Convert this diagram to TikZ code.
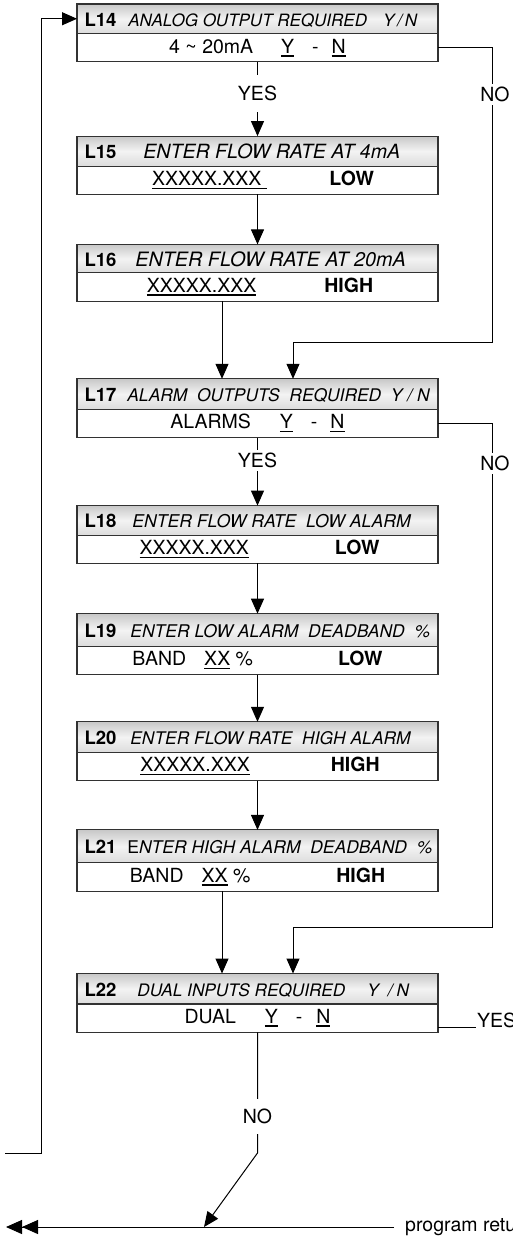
\documentclass[tikz,border=0pt]{standalone}
\usepackage{fontspec}
\setmainfont{TeX Gyre Heros}
\usetikzlibrary{arrows.meta, positioning}
\definecolor{FrameLine}{RGB}{50, 50, 50}
\definecolor{HeadTop}{RGB}{200, 200, 200}
\definecolor{HeadMid}{RGB}{243, 243, 243}
\definecolor{HeadBot}{RGB}{220, 220, 220}
\newsavebox{\ubox}
\newcommand{\uscore}[1]{\sbox{\ubox}{#1}\rlap{\rule[-3.5pt]{\wd\ubox}{1.7pt}}\usebox{\ubox}}
\newcommand{\lnum}[1]{{\fontsize{18.5}{20}\selectfont\bfseries #1}}
\newcommand{\itfs}[1]{\fontsize{#1}{22}\selectfont\itshape}
\newcommand{\headtxt}[1]{\makebox[346pt][l]{#1}}

\begin{document}
\begin{tikzpicture}[x=1pt, y=-1pt,
        % Ligne d'en-tete (numero + question)
        headbox/.style={draw=FrameLine, line width=1.1pt, outer sep=0pt, top color=HeadTop, bottom color=HeadBot, middle color=HeadMid, minimum width=361pt, minimum height=30pt, inner xsep=7.5pt, inner ysep=0pt, text height=15pt, text depth=0pt},
        % Ligne de saisie
        bodybox/.style={draw=FrameLine, line width=1.1pt, outer sep=0pt, fill=white, minimum width=361pt, minimum height=28.3pt, inner sep=0pt, text height=14pt, text depth=3pt, font=\fontsize{19.5}{22}\selectfont},
        % Etiquettes YES / NO
        lbl/.style={fill=white, inner xsep=1pt, inner ysep=3pt, font=\fontsize{19.5}{22}\selectfont},
        % Fleches
        arrow/.style={-{Triangle[length=15pt, width=13pt]}, line width=1pt},
        line/.style={line width=1pt},
        dblarrow/.style={-{Triangle[length=16pt, width=14pt, sep=0pt] Triangle[length=16pt, width=14pt, sep=0pt]}, line width=1pt}
    ]
    \useasboundingbox (0,0) rectangle (512,1237);

    % --- L14 ---
    \node[headbox, minimum height=29.5pt] (h14) at (257.5,18.75) {\headtxt{\lnum{L14}\hspace{12pt}\itfs{17}ANALOG OUTPUT REQUIRED\hspace{16pt}Y\,/\,N}};
    \node[bodybox, below=0pt of h14] (b14) {4 \textasciitilde{} 20mA\hspace{28pt}\uscore{Y}\hspace{18pt}-\hspace{13pt}\uscore{N}\hspace{6pt}};

    % --- L15 ---
    \node[headbox, below=74.3pt of b14] (h15) {\headtxt{\lnum{L15}\hspace{27pt}\itfs{19.6}ENTER FLOW RATE AT 4mA}};
    \node[bodybox, below=0pt of h15] (b15) {\hspace{11pt}\uscore{XXXXX.XXX\hspace{6pt}}\hspace{62pt}\textbf{LOW}};

    % --- L16 ---
    \node[headbox, minimum height=28.5pt, below=50pt of b15] (h16) {\headtxt{\lnum{L16}\hspace{19pt}\itfs{19.8}ENTER FLOW RATE AT 20mA}};
    \node[bodybox, below=0pt of h16] (b16) {\hspace{5pt}\uscore{XXXXX.XXX}\hspace{68pt}\textbf{HIGH}};

    % --- L17 ---
    \node[headbox, minimum height=30.5pt, below=77.6pt of b16] (h17) {\headtxt{\lnum{L17}\hspace{11pt}\itfs{17.4}ALARM\ \ OUTPUTS\ \ REQUIRED\ \ Y / N}};
    \node[bodybox, below=0pt of h17] (b17) {ALARMS\hspace{29pt}\uscore{Y}\hspace{18pt}-\hspace{13pt}\uscore{N}};

    % --- L18 ---
    \node[headbox, minimum height=29.5pt, below=68pt of b17] (h18) {\headtxt{\lnum{L18}\hspace{16pt}\itfs{17.6}ENTER FLOW RATE\ \ LOW ALARM}};
    \node[bodybox, below=0pt of h18] (b18) {\hspace{4pt}\uscore{XXXXX.XXX}\hspace{86pt}\textbf{LOW}};

    % --- L19 ---
    \node[headbox, minimum height=32.5pt, below=50.3pt of b18] (h19) {\headtxt{\lnum{L19}\hspace{14pt}\itfs{17.5}ENTER LOW ALARM\ \ DEADBAND\ \ \%}};
    \node[bodybox, below=0pt of h19] (b19) {BAND\hspace{18pt}\uscore{XX} \%\hspace{85pt}\textbf{LOW}};

    % --- L20 ---
    \node[headbox, minimum height=30.5pt, below=47.3pt of b19] (h20) {\headtxt{\lnum{L20}\hspace{14pt}\itfs{17.4}ENTER FLOW RATE\ \ HIGH ALARM}};
    \node[bodybox, below=0pt of h20] (b20) {\hspace{5pt}\uscore{XXXXX.XXX}\hspace{81pt}\textbf{HIGH}};

    % --- L21 ---
    \node[headbox, minimum height=33pt, below=49.3pt of b20] (h21) {\headtxt{\lnum{L21}\hspace{11pt}\itfs{17.5}{\upshape E}NTER HIGH ALARM\ \ DEADBAND\ \ \%}};
    \node[bodybox, below=0pt of h21] (b21) {BAND\hspace{18pt}\uscore{XX} \%\hspace{86pt}\textbf{HIGH}};

    % --- L22 ---
    \node[headbox, minimum height=30.5pt, below=82.3pt of b21] (h22) {\headtxt{\lnum{L22}\hspace{21pt}\itfs{17.2}DUAL INPUTS REQUIRED\hspace{22pt}Y\hspace{9pt}/\hspace{4pt}N}};
    \node[bodybox, below=0pt of h22] (b22) {DUAL\hspace{29pt}\uscore{Y}\hspace{18pt}-\hspace{14pt}\uscore{N}};

    % --- POINTS DE PASSAGE ---
    \coordinate (nobend14) at (492,342);
    \coordinate (nobend17) at (492,927);
    \coordinate (nobend22) at (257.5,1153);
    \coordinate (join) at (204,1227);
    \coordinate (retend) at (6,1227);
    \coordinate (loopin) at (5,1153);
    \coordinate (loopbend) at (41,1153);

    % --- FLECHES ---
    \draw[arrow] (b14.south) -- node[lbl, inner ysep=11pt, pos=0.43] (yes14) {YES} (h15.north);
    \draw[arrow] (b14.east) -| node[lbl, pos=0.58, xshift=3pt] (no14) {NO} (nobend14) -| ([xshift=35.5pt]h17.north);
    \draw[arrow] (b15.south) -- (h16.north);
    \draw[arrow] ([xshift=-35.5pt]b16.south) -- ([xshift=-35.5pt]h17.north);
    \draw[arrow] (b17.south) -- node[lbl, pos=0.34] (yes17) {YES} (h18.north);
    \draw[arrow] (b17.east) -| node[lbl, pos=0.54, xshift=3pt] (no17) {NO} (nobend17) -| ([xshift=35.5pt]h22.north);
    \draw[arrow] (b18.south) -- (h19.north);
    \draw[arrow] (b19.south) -- (h20.north);
    \draw[arrow] (b20.south) -- (h21.north);
    \draw[arrow] ([xshift=-35.5pt]b21.south) -- ([xshift=-35.5pt]h22.north);

    % sortie YES de L22
    \node[anchor=base west, inner sep=1pt, font=\fontsize{19.5}{22}\selectfont] (yes22) at ([xshift=38pt, yshift=-9pt]b22.east) {YES};
    \draw[line] ([yshift=-9pt]b22.east) -- (yes22.base west);

    % retour programme
    \node[anchor=west, inner xsep=11pt, inner ysep=0pt, font=\fontsize{19.5}{22}\selectfont] (ret) at (394,1227) {program retu};
    \draw[dblarrow] (ret.west) -- (retend);
    \draw[arrow] (b22.south) -- node[lbl, inner ysep=10pt, pos=0.7] (no22) {NO} (nobend22) -- (join);

    % boucle vers L14
    \draw[arrow] (loopin) -- (loopbend) |- (h14.west);

\end{tikzpicture}
\end{document}
